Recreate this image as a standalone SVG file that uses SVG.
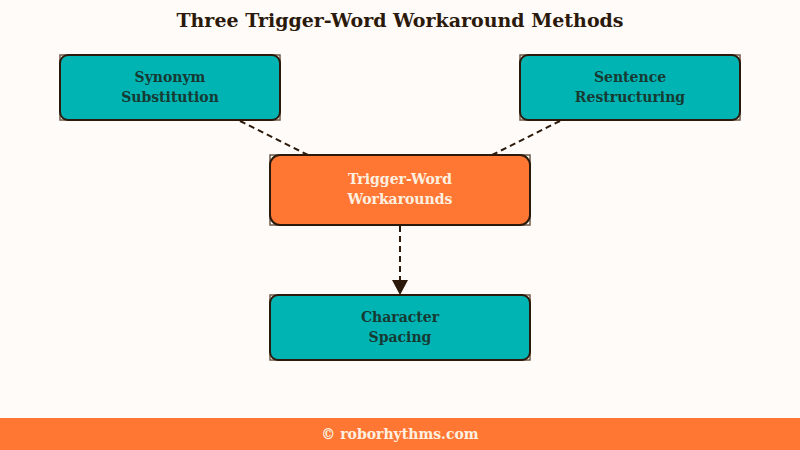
<svg xmlns="http://www.w3.org/2000/svg" width="800" height="450" viewBox="0 0 800 450">
<defs>
<style>
text{font-family:"DejaVu Serif","Liberation Serif",serif;font-weight:bold;text-anchor:middle}
.title{font-size:19px;fill:#2b1a0c}
.lbl{font-size:14px;fill:#173a33}
.lblw{font-size:14px;fill:#fdf0e0}
.frame{fill:none;stroke:#6e5a46;stroke-width:1.5}
.teal{fill:#00b4b4;stroke:#2b1a0c;stroke-width:2}
.orange{fill:#ff7733;stroke:#2b1a0c;stroke-width:2}
.conn{stroke:#2b1a0c;stroke-width:2;stroke-dasharray:6,4;fill:none}
.foot{font-size:14px;fill:#fdf0e0}
</style>
</defs>
<rect width="800" height="450" fill="#fffbf8"/>
<text class="title" x="400" y="27">Three Trigger-Word Workaround Methods</text>
<g id="connectors">
<line class="conn" x1="240" y1="121" x2="308" y2="155"/>
<line class="conn" x1="560" y1="121" x2="492" y2="155"/>
<line class="conn" x1="400" y1="226" x2="400" y2="281"/>
<path d="M392,280 L408,280 L400,295 Z" fill="#2b1a0c"/>
</g>
<g id="synonym">
<rect class="frame" x="60" y="55" width="220" height="65"/>
<rect class="teal" x="60" y="55" width="220" height="65" rx="8"/>
<text class="lbl" x="170" y="82">Synonym</text>
<text class="lbl" x="170" y="102">Substitution</text>
</g>
<g id="sentence">
<rect class="frame" x="520" y="55" width="220" height="65"/>
<rect class="teal" x="520" y="55" width="220" height="65" rx="8"/>
<text class="lbl" x="630" y="82">Sentence</text>
<text class="lbl" x="630" y="102">Restructuring</text>
</g>
<g id="center">
<rect class="frame" x="270" y="155" width="260" height="70"/>
<rect class="orange" x="270" y="155" width="260" height="70" rx="10"/>
<text class="lblw" x="400" y="184">Trigger-Word</text>
<text class="lblw" x="400" y="204">Workarounds</text>
</g>
<g id="character">
<rect class="frame" x="270" y="295" width="260" height="65"/>
<rect class="teal" x="270" y="295" width="260" height="65" rx="8"/>
<text class="lbl" x="400" y="322">Character</text>
<text class="lbl" x="400" y="342">Spacing</text>
</g>
<g id="footer">
<rect x="0" y="418" width="800" height="32" fill="#ff7733"/>
<text class="foot" x="400" y="439">© roborhythms.com</text>
</g>
</svg>
